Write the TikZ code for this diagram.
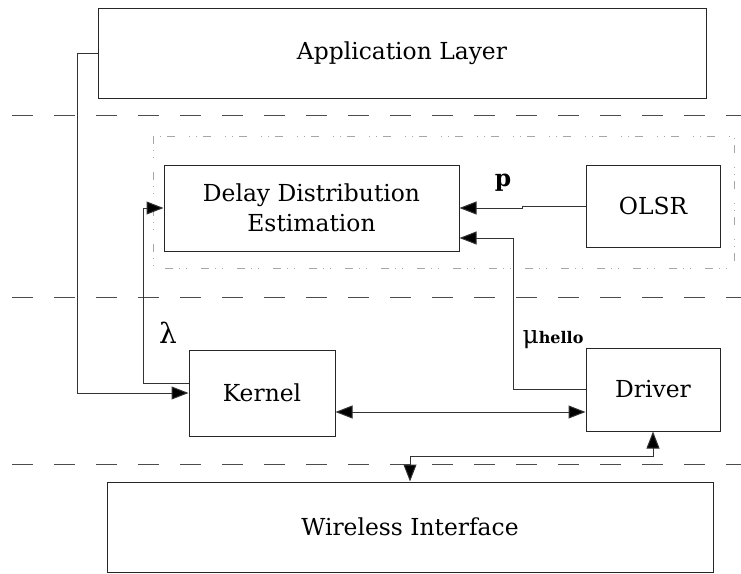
\documentclass[tikz,border=0pt]{standalone}
\usepackage{fontspec}
\setmainfont{DejaVu Serif}
\usetikzlibrary{arrows.meta,positioning}

\begin{document}
\begin{tikzpicture}[x=0.5pt, y=-0.5pt, line width=0.5pt, >={Triangle[length=8.5pt,width=6.5pt,fill=black]},
	font=\fontsize{11.7}{15}\selectfont,
	main/.style = {draw=black!85, rectangle, align=center, inner sep=0pt},
	layer/.style = {black!70, dash pattern=on 10.5pt off 10.5pt},
	link/.style = {black!80}]
	\useasboundingbox (0,0) rectangle (741,574);

	\node[main, minimum width=304pt, minimum height=45pt] (1) at (402,53) {Application Layer};
	\node[main, minimum width=147.5pt, minimum height=43pt] (2) at (311.5,208) {Delay Distribution\\Estimation};
	\node[main, minimum width=67pt, minimum height=41pt] (3) at (653,206) {OLSR};
	\node[main, minimum width=73pt, minimum height=43pt] (4) at (262,393) {Kernel};
	\node[main, minimum width=67pt, minimum height=41.5pt] (5) at (653,389.5) {Driver};
	\node[main, minimum width=303pt, minimum height=45pt] (6) at (410,527) {Wireless Interface};

	% layer separators
	\draw[layer] (12,115) -- (741,115);
	\draw[layer] (12,297) -- (741,297);
	\draw[layer] (12,464) -- (741,464);
	\draw[gray!70, dash pattern=on 4pt off 3pt on 0.5pt off 3pt on 0.5pt off 7pt] (153,136) rectangle (734,268);

	\draw[link, ->] (1.west) -- ++(-20,0) |- (4.west);
	\draw[link, ->] ([yshift=5pt]4.west) -- ++(-45,0) |- (2.west);
	\draw[link, ->] (3.west) -- ++(-63,0) |- (2.east);
	\draw[link, ->] (5.west) -- ++(-72,0) |- ([yshift=-15pt]2.east);
	\path ([yshift=-9.5pt]4.east) coordinate (k);
	\draw[link, <->] (k) -- (k -| 5.west);
	\draw[link, <->] (5.south) -- ++(0,25) -| (6.north);

	\node (l) at (168,333) {\fontsize{14}{16}\selectfont λ};
	\node (p) at (503,183) {\textbf{p}};
	\node (m) at (553,340) {\fontsize{12.5}{15}\selectfont μ\textbf{\fontsize{8}{9}\selectfont hello}};
\end{tikzpicture}
\end{document}
